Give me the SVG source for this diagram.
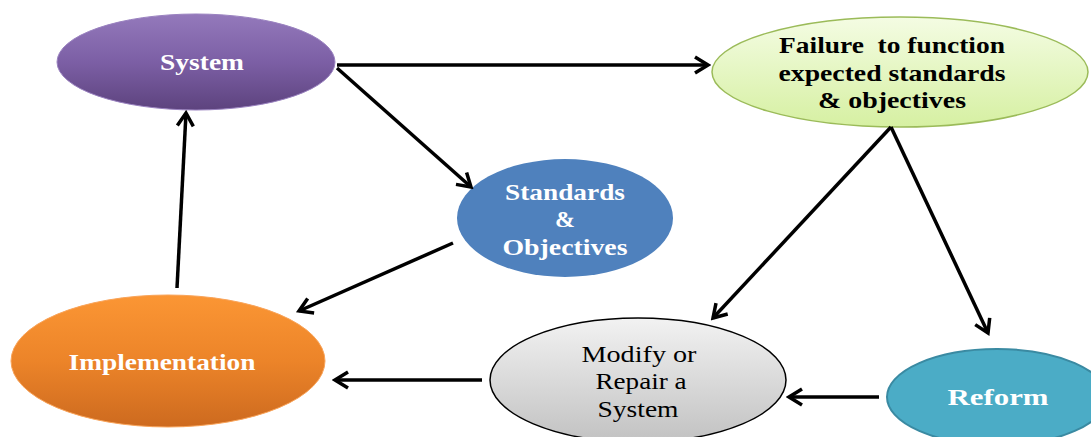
<svg xmlns="http://www.w3.org/2000/svg" width="1091" height="437" viewBox="0 0 1091 437">
  <defs>
    <linearGradient id="gSys" x1="0" y1="0" x2="0" y2="1">
      <stop offset="0" stop-color="#9479bb"/>
      <stop offset="0.5" stop-color="#7c5fa5"/>
      <stop offset="1" stop-color="#5d437e"/>
    </linearGradient>
    <linearGradient id="gFail" x1="0" y1="0" x2="0" y2="1">
      <stop offset="0" stop-color="#f4fce3"/>
      <stop offset="1" stop-color="#d6f0a2"/>
    </linearGradient>
    <linearGradient id="gImp" x1="0" y1="0" x2="0" y2="1">
      <stop offset="0" stop-color="#fb9634"/>
      <stop offset="0.5" stop-color="#ec8429"/>
      <stop offset="1" stop-color="#cd6a1f"/>
    </linearGradient>
    <linearGradient id="gMod" x1="0" y1="0" x2="0" y2="1">
      <stop offset="0" stop-color="#f2f2f2"/>
      <stop offset="1" stop-color="#c2c2c2"/>
    </linearGradient>
    <marker id="arr" viewBox="-16 -11 19 22" refX="0" refY="0" markerWidth="19" markerHeight="22" markerUnits="userSpaceOnUse" orient="auto">
      <path d="M-13,-8 L0,0 L-13,8" fill="none" stroke="#000" stroke-width="3.5" stroke-linejoin="miter"/>
    </marker>
  </defs>
  <style>
    text { font-family: 'Liberation Serif', serif; font-size: 24px; text-anchor: middle; }
    .b { font-weight: bold; }
    .w { fill: #ffffff; }
    .k { fill: #000000; }
    .conn line { stroke: #000; stroke-width: 3.5; marker-end: url(#arr); }
  </style>
  <rect width="1091" height="437" fill="#ffffff"/>

  <g id="node-system">
    <ellipse cx="196" cy="62" rx="139" ry="48" fill="url(#gSys)" stroke="#9a82c0" stroke-width="1"/>
    <text class="b w" x="202" y="70" font-size="22" textLength="84" lengthAdjust="spacingAndGlyphs">System</text>
  </g>

  <g id="node-failure">
    <ellipse cx="900" cy="72" rx="188" ry="55" fill="url(#gFail)" stroke="#9bbb59" stroke-width="1.5"/>
    <text class="b k" x="892" y="53" textLength="226" lengthAdjust="spacingAndGlyphs">Failure&#160; to function</text>
    <text class="b k" x="892" y="81" textLength="227" lengthAdjust="spacingAndGlyphs">expected standards</text>
    <text class="b k" x="892" y="108" textLength="148" lengthAdjust="spacingAndGlyphs">&amp; objectives</text>
  </g>

  <g id="node-standards">
    <ellipse cx="565" cy="218" rx="108" ry="59" fill="#4f81bd"/>
    <text class="b w" x="565" y="200" textLength="120" lengthAdjust="spacingAndGlyphs">Standards</text>
    <text class="b w" x="565" y="227">&amp;</text>
    <text class="b w" x="565" y="255" textLength="125" lengthAdjust="spacingAndGlyphs">Objectives</text>
  </g>

  <g id="node-implementation">
    <ellipse cx="168" cy="361" rx="157" ry="66" fill="url(#gImp)" stroke="#f9a45a" stroke-width="1"/>
    <text class="b w" x="162" y="370" textLength="187" lengthAdjust="spacingAndGlyphs">Implementation</text>
  </g>

  <g id="node-modify">
    <ellipse cx="638" cy="380" rx="148" ry="62" fill="url(#gMod)" stroke="#000" stroke-width="1.5"/>
    <text class="k" x="639" y="362" font-size="23" textLength="115" lengthAdjust="spacingAndGlyphs">Modify or</text>
    <text class="k" x="641" y="389" font-size="23" textLength="91" lengthAdjust="spacingAndGlyphs">Repair a</text>
    <text class="k" x="638" y="417" font-size="23" textLength="81" lengthAdjust="spacingAndGlyphs">System</text>
  </g>

  <g id="node-reform">
    <ellipse cx="997" cy="397" rx="110" ry="48" fill="#4bacc6" stroke="#3a8aa2" stroke-width="2"/>
    <text class="b w" x="998" y="405" font-size="25" textLength="101" lengthAdjust="spacingAndGlyphs">Reform</text>
  </g>

  <g id="connectors" class="conn">
    <line x1="337" y1="65" x2="708" y2="65"/>
    <line x1="337" y1="68" x2="471" y2="187"/>
    <line x1="453" y1="243" x2="299" y2="311"/>
    <line x1="177" y1="288" x2="186" y2="113"/>
    <line x1="891" y1="127" x2="713" y2="318"/>
    <line x1="891" y1="127" x2="988" y2="333"/>
    <line x1="879" y1="397" x2="789" y2="397"/>
    <line x1="482" y1="380" x2="335" y2="380"/>
  </g>
</svg>
